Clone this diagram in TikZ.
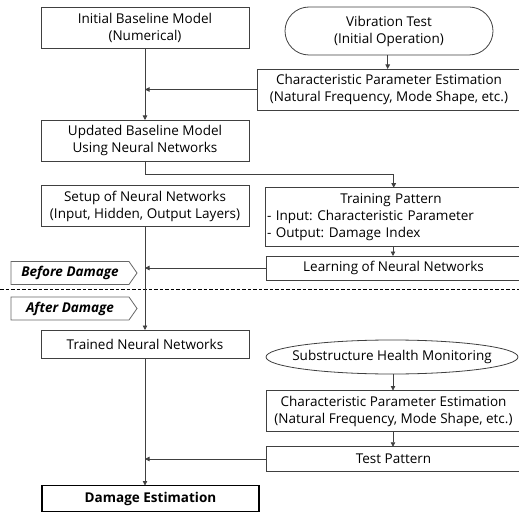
\documentclass[tikz,border=0pt]{standalone}
\usepackage{fontspec}
\setmainfont{Open Sans}
\usetikzlibrary{arrows.meta,shapes.geometric,shapes.symbols}
\begin{document}
\frenchspacing
\begin{tikzpicture}[x=1pt,y=-1pt,
  every node/.style={font=\fontsize{13.5}{17}\selectfont, inner sep=0pt, outer sep=0pt},
  box/.style={draw=black!75, line width=0.8pt, rectangle, fill=white},
  stadium/.style={draw=black!75, line width=0.8pt, rectangle, rounded corners=24pt, fill=white},
  oval/.style={draw=black!75, line width=0.8pt, ellipse, fill=white},
  tag/.style={draw=black!60, line width=0.8pt, signal, signal to=east, signal pointer angle=110, fill=white, font=\fontsize{13.5}{14}\selectfont\bfseries\itshape},
  conn/.style={draw=black!75, line width=0.8pt},
  arr/.style={conn, -{Triangle[length=4.5pt,width=4.5pt]}}
]
\useasboundingbox (0,0) rectangle (519,513);
% left column
\node[box, minimum width=208, minimum height=41, align=center] (init) at (145,28) {Initial Baseline Model\\(Numerical)};
\node[box, minimum width=208, minimum height=41, align=center] (upd) at (145,140.5) {Updated Baseline Model\\Using Neural Networks};
\node[box, minimum width=208, minimum height=41, align=center] (setup) at (145,206) {Setup of Neural Networks\\(Input, Hidden, Output Layers)};
\node[box, minimum width=208, minimum height=28] (trained) at (145,344) {Trained Neural Networks};
\node[box, draw=black, line width=1.5pt, minimum width=217, minimum height=26, font=\fontsize{13.5}{14}\selectfont\bfseries] (dmg) at (150.5,498.5) {Damage Estimation};
% right column
\node[stadium, minimum width=208, minimum height=48, align=center] (vib) at (389,31) {Vibration Test\\(Initial Operation)};
\node[box, minimum width=264, minimum height=41, align=center] (cp1) at (389,89.5) {Characteristic Parameter Estimation\\(Natural Frequency, Mode Shape, etc.)};
\node[box, minimum width=256, minimum height=58.5, text width=252pt, align=left] (train) at (393,217) {\makebox[248pt]{Training Pattern}\\- Input: Characteristic Parameter\\- Output: Damage Index};
\node[box, minimum width=255, minimum height=24] (learn) at (393.5,268) {Learning of Neural Networks};
\node[oval, minimum width=252, minimum height=34] (sub) at (392,357) {\makebox[0pt]{Substructure Health Monitoring}};
\node[box, minimum width=255, minimum height=41, align=center] (cp2) at (393.5,411) {Characteristic Parameter Estimation\\(Natural Frequency, Mode Shape, etc.)};
\node[box, minimum width=255, minimum height=24.5] (test) at (393.5,459) {Test Pattern};
% tags and divider
\node[tag, minimum width=126, minimum height=23] (before) at (70,273) {Before Damage};
\node[tag, minimum width=126, minimum height=23] (after) at (70,308.5) {After Damage};
\coordinate (dl) at (0,289.5);
\coordinate (dr) at (519,289.5);
\draw[line width=1pt, dash pattern=on 3.5pt off 2pt, black] (dl) -- (dr);
% connectors
\draw[arr] (init.south) -- (upd.north);
\draw[arr] (vib.south -| 387.7,0) -- (cp1.north -| 387.7,0);
\draw[arr] (cp1.west) -- (cp1.west -| init.south);
\draw[arr] (upd.south) -- ++(0,13) -| (train.north -| 393.7,0);
\draw[arr] (setup.south) -- (trained.north);
\draw[arr] (train.south -| 393,0) -- (learn.north -| 393,0);
\draw[arr] (learn.west) -- (learn.west -| init.south);
\draw[arr] (trained.south) -- (trained.south |- dmg.north);
\draw[arr] (sub.south -| 393,0) -- (cp2.north -| 393,0);
\draw[arr] (cp2.south -| 393,0) -- (test.north -| 393,0);
\draw[arr] (test.west) -- (test.west -| init.south);
\end{tikzpicture}
\end{document}
